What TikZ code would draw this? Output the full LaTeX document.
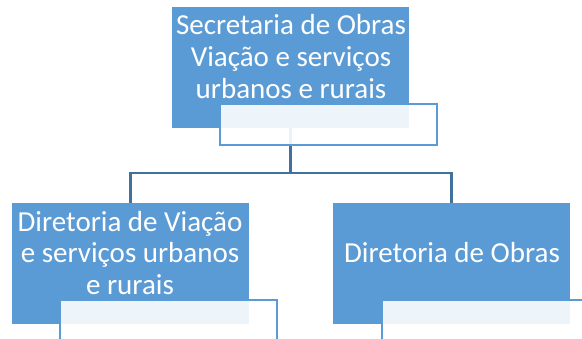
\documentclass[tikz,border=0pt]{standalone}
\usepackage{fontspec}
\setmainfont{Carlito}
\definecolor{boxblue}{HTML}{5B9BD5}
\definecolor{linkblue}{HTML}{41719C}
\begin{document}
\begin{tikzpicture}[x=1pt,y=-1pt,
  mainbox/.style={fill=boxblue, draw=none, minimum width=237pt, minimum height=121pt, inner sep=0pt, anchor=north west},
  namebox/.style={fill=white, fill opacity=0.9, draw=boxblue, line width=2.5pt, minimum width=217pt, minimum height=41pt, inner sep=0pt, anchor=north west},
  lbl/.style={text=white, font=\fontsize{29}{31.7}\selectfont, align=center, inner sep=0pt},
  conn/.style={draw=linkblue, line width=2.8pt}]
\clip (0,0) rectangle (582,338);
\node[mainbox] (top) at (172,7) {};
\node[mainbox] (left) at (12,203) {};
\node[mainbox] (right) at (333,203) {};
\coordinate (j) at (top.south |- 0,173);
\draw[conn] (top.south) -- (j) -| (left.north);
\draw[conn] (j) -| (right.north);
\node[namebox] (topname) at (218.5,102.5) {};
\node[namebox] (leftname) at (58.5,298.5) {};
\node[namebox] (rightname) at (380.5,298.5) {};
\node[lbl] (toptext) at (291,56.5) {Secretaria de Obras\\Viação e serviços\\urbanos e rurais};
\node[lbl] (lefttext) at (130,253) {Diretoria de Viação\\e serviços urbanos\\e rurais};
\node[lbl] (righttext) at (452,253) {Diretoria de Obras};
\end{tikzpicture}
\end{document}
